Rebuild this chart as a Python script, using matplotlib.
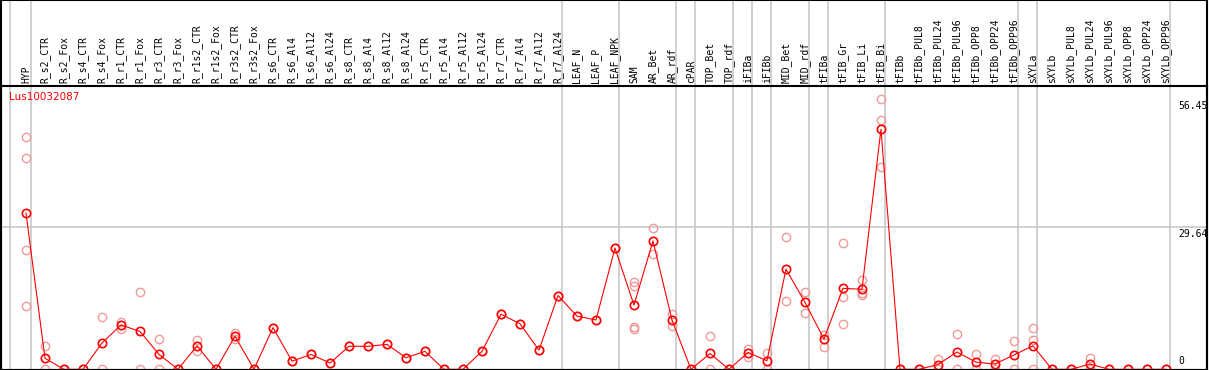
import numpy as np
import matplotlib
matplotlib.use('Agg')
import matplotlib.pyplot as plt
from matplotlib.patches import Rectangle

# sample names, left to right
samples = ['HYP', 'R_s2_CTR', 'R_s2_Fox', 'R_s4_CTR', 'R_s4_Fox', 'R_r1_CTR', 'R_r1_Fox',
           'R_r3_CTR', 'R_r3_Fox', 'R_r1s2_CTR', 'R_r1s2_Fox', 'R_r3s2_CTR', 'R_r3s2_Fox',
           'R_s6_CTR', 'R_s6_Al4', 'R_s6_Al12', 'R_s6_Al24', 'R_s8_CTR', 'R_s8_Al4',
           'R_s8_Al12', 'R_s8_Al24', 'R_r5_CTR', 'R_r5_Al4', 'R_r5_Al12', 'R_r5_Al24',
           'R_r7_CTR', 'R_r7_Al4', 'R_r7_Al12', 'R_r7_Al24', 'LEAF_N', 'LEAF_P', 'LEAF_NPK',
           'SAM', 'AR_Bet', 'AR_rdf', 'cPAR', 'TOP_Bet', 'TOP_rdf', 'iFIBa', 'iFIBb',
           'MID_Bet', 'MID_rdf', 'tFIBa', 'tFIB_Gr', 'tFIB_Li', 'tFIB_Bi', 'tFIBb',
           'tFIBb_PUL8', 'tFIBb_PUL24', 'tFIBb_PUL96', 'tFIBb_OPP8', 'tFIBb_OPP24',
           'tFIBb_OPP96', 'sXYLa', 'sXYLb', 'sXYLb_PUL8', 'sXYLb_PUL24', 'sXYLb_PUL96',
           'sXYLb_OPP8', 'sXYLb_OPP24', 'sXYLb_OPP96']

# mean expression per sample
means = [32.6, 2.3, 0, 0, 5.5, 9.25, 7.9,
         3.1, 0, 4.9, 0, 6.9, 0,
         8.7, 1.7, 3.1, 1.3, 4.8, 4.8,
         5.2, 2.4, 3.75, 0, 0, 3.75,
         11.5, 9.5, 4.0, 15.4, 11.1, 10.3, 25.3,
         13.4, 26.8, 10.3, 0, 3.3, 0, 3.5, 1.8,
         20.9, 14.0, 6.3, 16.9, 16.7, 50.1, 0,
         0, 1.0, 3.6, 1.5, 1.1,
         3.0, 4.9, 0, 0, 1.1, 0,
         0, 0, 0]

# individual replicates per sample
replicates = [[48.4, 44.05, 24.8, 13.2], [4.8, 0], [0], [0], [10.9, 0], [9.9, 8.4], [16.1, 0],
              [6.3, 0], [0], [6.1, 3.9], [0], [7.5, 6.3], [0],
              [8.7], [1.7], [3.1], [1.3], [4.8], [4.8],
              [5.2], [2.4], [3.75], [0], [0], [3.75],
              [11.5], [9.5], [4.0], [15.4], [11.1], [10.3], [25.3],
              [18.2, 17.4, 8.8, 8.5], [29.4, 24.0], [11.5, 9.0], [0], [7.0, 0], [0], [4.3, 2.6], [3.5, 0],
              [27.6, 14.2], [16.1, 11.75], [7.2, 4.6], [26.3, 15.0, 9.4], [18.6, 15.9, 15.6], [56.45, 52.0, 42.2], [0],
              [0], [2.2, 0], [7.3, 0], [3.1, 0], [2.2, 0],
              [5.9, 0], [8.6, 6.05, 0], [0], [0], [2.4, 0], [0],
              [0], [0], [0]]

# group separators (after these sample indices)
separators = [0, 28, 31, 34, 35, 37, 38, 39, 41, 42, 45, 52, 53, 60]

gene = 'Lus10032087'
scale_labels = [56.45, 29.64, 0]

W, H = 1209, 370
fig = plt.figure(figsize=(W / 100, H / 100), dpi=100)
header_px = 85.7
ax = fig.add_axes([1 / W, 0, 1206 / W, (H - header_px) / H])

x = np.arange(len(samples))
ax.set_xlim(-1.316, 62.16)
ax.set_ylim(-0.146, 59.2)

# vertical separators run through the header too
ymax_ext = 1 + header_px / (H - header_px)
ax.axvline(-0.83, 0, ymax_ext, color='#c8c8c8', lw=1.2, clip_on=False, zorder=0)
for s in separators:
    ax.axvline(s + 0.237, 0, ymax_ext, color='#c8c8c8', lw=1.2, clip_on=False, zorder=0)
ax.axhline(29.64, color='#c8c8c8', lw=1.2, zorder=0)

# replicates
rx = [i for i, reps in enumerate(replicates) for _ in reps]
ry = [v for reps in replicates for v in reps]
ax.plot(rx, ry, 'o', ms=6, mfc='none', mec='#f09a9a', mew=1.0, clip_on=False, zorder=2)

# mean line
ax.plot(x, means, '-o', color='red', lw=0.8, ms=6, mfc='none', mec='red', mew=1.2,
        clip_on=False, zorder=3)

ax.xaxis.tick_top()
ax.set_xticks(x)
ax.set_xticklabels(samples, rotation=90, family='DejaVu Sans Mono', fontsize=7)
ax.tick_params(axis='x', length=0, pad=2)
ax.set_yticks([])

for sp in ax.spines.values():
    sp.set_linewidth(1.5)
    sp.set_color('black')

ax.text(0.0065, 0.96, gene, transform=ax.transAxes, color='red', fontsize=7.5,
        ha='left', va='center')

for v in scale_labels:
    if v == 0:
        ax.annotate('0', (60.67, v), xytext=(0, 2.5), textcoords='offset points',
                    family='DejaVu Sans Mono', fontsize=7, ha='left', va='bottom')
    else:
        ax.annotate(f'{v:.2f}', (60.67, v), xytext=(0, -1.5), textcoords='offset points',
                    family='DejaVu Sans Mono', fontsize=7, ha='left', va='top')

# outer frame
fig.patches.append(Rectangle((1 / W, 0), 1206 / W, 1, transform=fig.transFigure,
                             fill=False, edgecolor='black', lw=1.5))

plt.savefig('out.png', dpi=100)
